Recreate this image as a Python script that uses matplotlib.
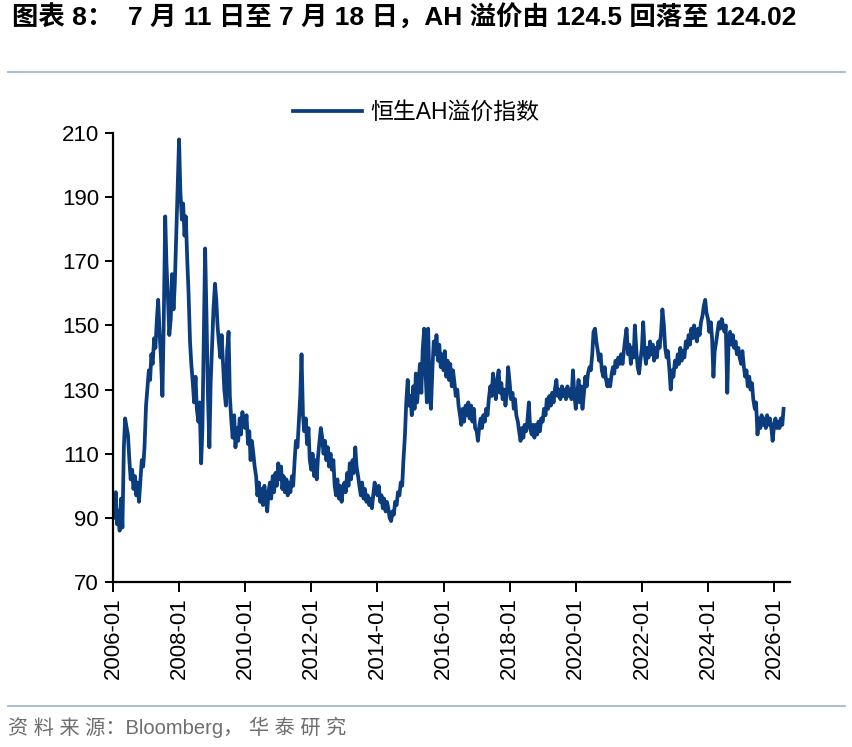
import numpy as np
import pandas as pd
import matplotlib
matplotlib.use("Agg")
import matplotlib.pyplot as plt
import matplotlib.dates as mdates

plt.rcParams['font.family'] = ['Liberation Sans', 'Noto Sans CJK SC', 'DejaVu Sans']

# 恒生AH溢价指数, semi-monthly readings (1st / 15th of each month)
y2006 = [95, 90, 98, 88, 92, 86, 96, 87, 112, 121, 118, 116, 108, 102, 105, 99, 103, 97, 101, 95, 102, 108, 106, 112]
y2007 = [125, 130, 136, 133, 141, 138, 146, 143, 152, 158, 147, 140, 128, 150, 184, 169, 158, 147, 152, 166, 155, 163, 178, 191]
y2008 = [208, 192, 183, 188, 178, 184, 170, 160, 145, 138, 132, 126, 134, 124, 120, 126, 107, 118, 148, 174, 150, 128, 112, 132]
y2009 = [145, 155, 163, 158, 150, 145, 140, 147, 138, 130, 125, 142, 148, 128, 120, 115, 122, 112, 118, 114, 121, 116, 123, 119]
y2010 = [118, 122, 113, 117, 108, 114, 110, 106, 103, 97, 101, 95, 99, 94, 100, 96, 92, 98, 101, 96, 103, 98, 104, 100]
y2011 = [107, 102, 106, 99, 103, 98, 102, 97, 101, 98, 103, 100, 108, 114, 112, 119, 128, 141, 122, 117, 121, 113, 118, 108]
y2012 = [105, 110, 103, 108, 102, 109, 114, 118, 115, 110, 114, 108, 112, 106, 110, 105, 108, 100, 97, 102, 96, 100, 95, 99]
y2013 = [101, 98, 104, 100, 107, 102, 108, 104, 112, 106, 103, 100, 97, 101, 96, 99, 95, 97, 94, 96, 93, 97, 101, 98]
y2014 = [97, 100, 95, 97, 93, 96, 92, 95, 93, 90, 89, 92, 91, 95, 94, 98, 97, 101, 100, 108, 116, 126, 133, 125]
y2015 = [128, 122, 131, 124, 135, 126, 132, 138, 129, 142, 149, 136, 126, 149, 129, 124, 137, 145, 141, 147, 139, 144, 137, 141]
y2016 = [136, 142, 134, 139, 133, 138, 131, 136, 132, 128, 130, 125, 122, 119, 124, 120, 125, 122, 126, 121, 125, 120, 124, 118]
y2017 = [117, 114, 119, 121, 118, 122, 120, 124, 122, 127, 131, 128, 135, 130, 127, 133, 136, 129, 132, 127, 130, 125, 129, 137]
y2018 = [132, 127, 129, 124, 127, 122, 120, 117, 114, 118, 115, 119, 117, 120, 126, 118, 116, 119, 115, 119, 116, 120, 117, 121]
y2019 = [120, 124, 122, 127, 124, 128, 125, 129, 126, 130, 133, 128, 130, 127, 131, 128, 130, 127, 131, 128, 130, 127, 136, 129]
y2020 = [124, 128, 133, 126, 131, 124, 129, 134, 131, 135, 137, 136, 141, 148, 149, 145, 142, 139, 141, 136, 134, 137, 133, 131]
y2021 = [133, 131, 135, 137, 135, 139, 137, 140, 138, 141, 138, 142, 146, 149, 141, 144, 138, 143, 140, 150, 142, 137, 135, 139]
y2022 = [143, 151, 141, 138, 143, 140, 145, 141, 144, 139, 143, 140, 145, 143, 148, 155, 150, 143, 140, 142, 136, 130, 136, 134]
y2023 = [139, 137, 141, 138, 143, 139, 142, 140, 145, 143, 147, 144, 149, 146, 150, 147, 145, 149, 147, 151, 153, 156, 158, 154]
y2024 = [152, 148, 151, 146, 134, 142, 145, 148, 151, 149, 152, 150, 148, 150, 129, 145, 148, 144, 147, 143, 145, 141, 143, 140]
y2025 = [138, 142, 137, 134, 136, 131, 134, 130, 132, 127, 124, 126, 116, 121, 118, 122, 119, 121, 118, 122, 119, 121, 118, 114]
y2026 = [119, 121, 118, 120, 118, 121, 119, 124]

values = (y2006 + y2007 + y2008 + y2009 + y2010 + y2011 + y2012 + y2013 + y2014 + y2015 + y2016
          + y2017 + y2018 + y2019 + y2020 + y2021 + y2022 + y2023 + y2024 + y2025 + y2026)
dates = pd.date_range("2006-01-01", periods=len(values), freq="SMS")

yticks = [70, 90, 110, 130, 150, 170, 190, 210]
xtick_years = list(range(2006, 2027, 2))

title = "图表 8：  7 月 11 日至 7 月 18 日，AH 溢价由 124.5 回落至 124.02"
legend_label = "恒生AH溢价指数"
source = "资 料 来 源：Bloomberg， 华 泰 研 究"

line_color = "#0B3C7D"
rule_color = "#9DB3CF"

fig = plt.figure(figsize=(8.52, 7.47), dpi=100)
ax = fig.add_axes([113 / 852, 1 - 582 / 747, (790 - 113) / 852, (582 - 133) / 747])

ax.plot(dates, values, color=line_color, linewidth=2.7, label=legend_label)

ax.set_ylim(70, 210)
ax.set_yticks(yticks)
ax.set_xlim(pd.Timestamp("2006-01-01"), pd.Timestamp("2026-06-25"))
ax.set_xticks([pd.Timestamp(f"{y}-01-01") for y in xtick_years])
ax.xaxis.set_major_formatter(mdates.DateFormatter("%Y-%m"))

for s in ["top", "right"]:
    ax.spines[s].set_visible(False)
for s in ["left", "bottom"]:
    ax.spines[s].set_linewidth(1.6)
ax.tick_params(axis="y", length=6, width=1.4, labelsize=16, pad=4)
ax.tick_params(axis="x", length=7, width=1.4, labelsize=16, pad=4, labelrotation=90)

leg = ax.legend(loc="upper center", bbox_to_anchor=(0.448, 1.118), frameon=False,
                handlelength=3.0, handletextpad=0.4,
                prop={"family": ["Liberation Sans", "Noto Sans CJK SC"], "size": 16.5})

fig.text(12 / 852, 1 - 18 / 747, title, fontsize=19, fontweight="bold", va="center", ha="left",
         family=["Liberation Sans", "Noto Sans CJK SC"])
fig.add_artist(plt.Line2D([8 / 852, 845 / 852], [1 - 72 / 747, 1 - 72 / 747], color=rule_color, linewidth=1.2))
fig.add_artist(plt.Line2D([8 / 852, 845 / 852], [1 - 706 / 747, 1 - 706 / 747], color=rule_color, linewidth=1.2))
fig.text(8 / 852, 1 - 727 / 747, source, fontsize=14.5, color="#6E6E6E", va="center", ha="left",
         family=["Liberation Sans", "Noto Sans CJK SC"])

fig.savefig("out.png", dpi=100)
